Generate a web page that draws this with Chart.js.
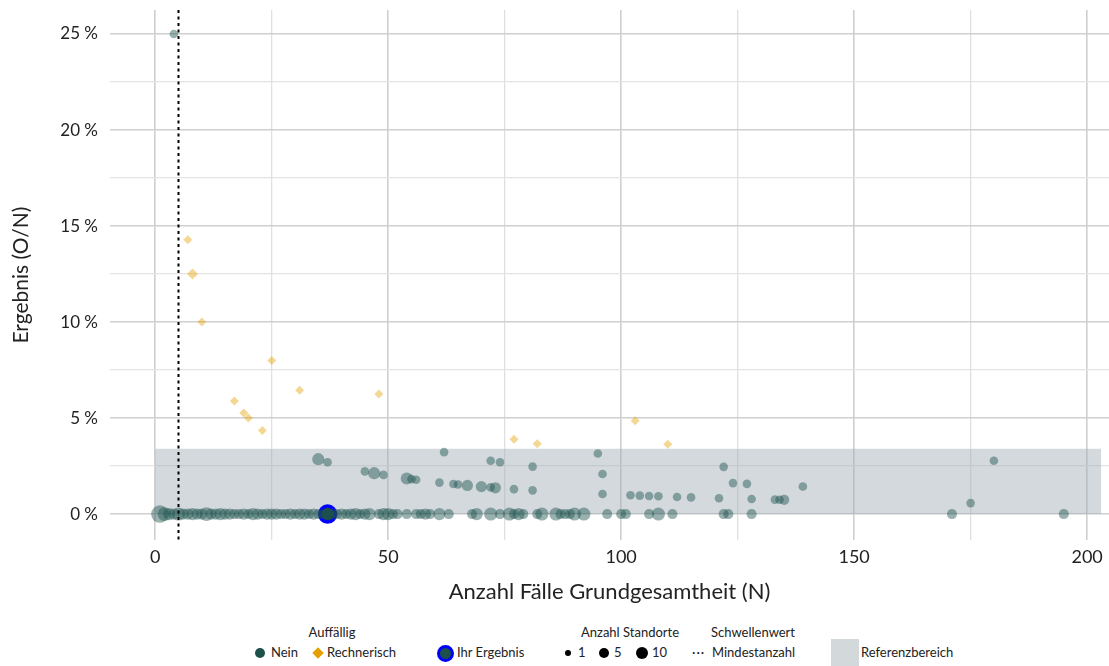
<!DOCTYPE html>
<html lang="de">
<head>
<meta charset="utf-8">
<title>Ergebnis nach Anzahl Fälle</title>
<script src="https://cdn.jsdelivr.net/npm/chart.js@4.4.1/dist/chart.umd.min.js"></script>
<style>
  body { margin: 0; background: #fff; font-family: Lato, "Open Sans", sans-serif; color: #222; }
  #wrap { position: relative; width: 1109px; height: 666px; }
  #legend { position: absolute; left: 0; top: 610px; width: 1109px; height: 56px; font-size: 13px; }
  #legend .t { position: absolute; top: 14px; transform: translateX(-50%); white-space: nowrap; }
  #legend .l { position: absolute; top: 34px; white-space: nowrap; }
  #legend .s { position: absolute; }
</style>
</head>
<body>
<div id="wrap">
  <canvas id="scatterChart" width="1109" height="610"></canvas>
  <div id="legend">
    <span class="t" style="left:332px">Auffällig</span>
    <span class="s" style="left:255px;top:38px;width:10px;height:10px;border-radius:50%;background:#1d4f4b"></span>
    <span class="l" style="left:271px">Nein</span>
    <span class="s" style="left:314px;top:39px;width:8px;height:8px;transform:rotate(45deg);background:#e69f00"></span>
    <span class="l" style="left:327px">Rechnerisch</span>
    <span class="s" style="left:437px;top:35px;width:11px;height:11px;border-radius:50%;background:#1d4f4b;border:3px solid #0000ff"></span>
    <span class="l" style="left:457px">Ihr Ergebnis</span>
    <span class="t" style="left:630px">Anzahl Standorte</span>
    <span class="s" style="left:565px;top:40px;width:6px;height:6px;border-radius:50%;background:#000"></span>
    <span class="l" style="left:578px">1</span>
    <span class="s" style="left:599px;top:38px;width:10px;height:10px;border-radius:50%;background:#000"></span>
    <span class="l" style="left:614px">5</span>
    <span class="s" style="left:636px;top:37px;width:12px;height:12px;border-radius:50%;background:#000"></span>
    <span class="l" style="left:652px">10</span>
    <span class="t" style="left:753px">Schwellenwert</span>
    <span class="l" style="left:692px;letter-spacing:1px">···</span>
    <span class="l" style="left:712px">Mindestanzahl</span>
    <span class="s" style="left:831px;top:29px;width:28px;height:27px;background:#d3d8db"></span>
    <span class="l" style="left:861px">Referenzbereich</span>
  </div>
</div>
<script>
// Auffällig = Nein (Ereignisse > 0)
const neinN = [4, 35, 37, 45, 47, 49, 54, 55, 56, 61, 62, 64, 65, 67, 70, 72, 72, 73, 74, 77,
  81, 81, 95, 96, 96, 102, 104, 106, 108, 112, 115, 121, 122, 124, 127, 128, 133, 134, 135, 139, 175, 180];
const neinO = [1, 1, 1, 1, 1, 1, 1, 1, 1, 1, 2, 1, 1, 1, 1, 2, 1, 1, 2, 1,
  2, 1, 3, 2, 1, 1, 1, 1, 1, 1, 1, 1, 3, 2, 2, 1, 1, 1, 1, 2, 1, 5];
const neinStandorte = [1, 4, 1, 1, 4, 1, 4, 1, 1, 1, 1, 1, 1, 3, 3, 1, 1, 3, 1, 1,
  1, 1, 1, 1, 1, 1, 1, 1, 1, 1, 1, 1, 1, 1, 1, 1, 1, 1, 2, 1, 1, 1];

// Auffällig = Nein, ohne Ereignis (O = 0)
const nullN = [1, 2, 3, 4, 5, 6, 7, 8, 9, 10, 11, 12, 13, 14, 15, 16, 17, 18, 19, 20,
  21, 22, 23, 24, 25, 26, 27, 28, 29, 30, 31, 32, 33, 34, 35, 36, 38, 39, 40, 41,
  42, 43, 44, 45, 46, 48, 49, 50, 51, 52, 54, 56, 57, 58, 59, 61, 63, 68, 69, 72,
  74, 76, 77, 78, 79, 82, 83, 86, 87, 88, 89, 90, 92, 97, 100, 101, 106, 108, 111, 122,
  123, 128, 171, 195];
const nullStandorte = [12, 6, 4, 3, 5, 3, 3, 4, 3, 3, 6, 3, 3, 4, 3, 3, 2, 2, 3, 2,
  4, 3, 2, 3, 3, 3, 2, 2, 3, 2, 3, 3, 2, 3, 2, 2, 3, 2, 3, 2,
  3, 4, 2, 3, 4, 2, 4, 4, 2, 2, 2, 2, 2, 3, 2, 4, 2, 2, 4, 5,
  2, 5, 2, 4, 2, 2, 5, 5, 2, 2, 2, 5, 5, 2, 2, 2, 2, 5, 2, 2,
  2, 2, 2, 2];

// Auffällig = Rechnerisch
const rechnerischN = [7, 8, 10, 17, 19, 20, 23, 25, 31, 48, 77, 82, 103, 110];
const rechnerischO = [1, 1, 1, 1, 1, 1, 1, 2, 2, 3, 3, 3, 5, 4];
const rechnerischStandorte = [1, 2, 1, 1, 1, 1, 1, 1, 1, 1, 1, 1, 1, 1];

// eigener Standort
const ihrN = [37];
const ihrO = [0];

const mindestanzahl = 5;
const referenzN = [0, 203];
const referenzProzent = [0, 3.4];
const yBeschriftung = [0, 5, 10, 15, 20, 25];
const xBeschriftung = [0, 50, 100, 150, 200];

const gruen = 'rgba(29, 82, 77, 0.45)';
const orange = 'rgba(230, 159, 0, 0.42)';

function punkte(nArr, oArr) {
  return nArr.map((n, i) => ({ x: n, y: oArr ? oArr[i] / n * 100 : 0 }));
}
function radius(st) {
  return 2.5 + 1.8 * Math.sqrt(st);
}

const bandPlugin = {
  id: 'referenzband',
  beforeDatasetsDraw(chart) {
    const { ctx, scales: { x, y } } = chart;
    const x0 = x.getPixelForValue(referenzN[0]), x1 = x.getPixelForValue(referenzN[1]);
    const y0 = y.getPixelForValue(referenzProzent[0]), y1 = y.getPixelForValue(referenzProzent[1]);
    ctx.save();
    ctx.fillStyle = 'rgba(160, 172, 179, 0.46)';
    ctx.fillRect(x0, y1, x1 - x0, y0 - y1);
    ctx.restore();
  }
};

const schwellePlugin = {
  id: 'schwelle',
  afterDatasetsDraw(chart) {
    const { ctx, chartArea, scales: { x } } = chart;
    const px = Math.round(x.getPixelForValue(mindestanzahl)) + 0.5;
    ctx.save();
    ctx.strokeStyle = '#000';
    ctx.lineWidth = 2;
    ctx.setLineDash([3, 3.5]);
    ctx.beginPath();
    ctx.moveTo(px, chartArea.top);
    ctx.lineTo(px, chartArea.bottom);
    ctx.stroke();
    ctx.restore();
  }
};

const ctx = document.getElementById('scatterChart').getContext('2d');
new Chart(ctx, {
  type: 'scatter',
  data: {
    datasets: [
      {
        label: 'Nein',
        data: punkte(nullN, null).concat(punkte(neinN, neinO)),
        pointRadius: nullStandorte.concat(neinStandorte).map(radius),
        backgroundColor: gruen,
        borderWidth: 0,
        pointHoverRadius: 0
      },
      {
        label: 'Rechnerisch',
        data: punkte(rechnerischN, rechnerischO),
        pointStyle: 'rectRot',
        pointRadius: rechnerischStandorte.map(s => s > 1 ? 5.5 : 4.5),
        backgroundColor: orange,
        borderWidth: 0
      },
      {
        label: 'Ihr Ergebnis',
        data: punkte(ihrN, ihrO),
        pointRadius: 8,
        backgroundColor: '#1d4f4b',
        borderColor: '#0000ff',
        borderWidth: 3.5
      }
    ]
  },
  options: {
    responsive: false,
    animation: false,
    layout: { padding: { top: 10, left: 0, right: 0, bottom: 0 }, autoPadding: false },
    plugins: {
      legend: { display: false },
      tooltip: { enabled: false }
    },
    scales: {
      x: {
        type: 'linear',
        min: -9.7,
        max: 204.7,
        border: { display: false },
        grid: {
          drawTicks: false,
          color: c => c.tick.value % 50 === 0 ? '#cfcfcf' : '#e0e0e0',
          lineWidth: c => c.tick.value % 50 === 0 ? 1.6 : 1.3
        },
        ticks: {
          stepSize: 25,
          includeBounds: false,
          autoSkip: false,
          maxRotation: 0,
          padding: 6,
          color: '#222',
          font: { family: 'Lato', size: 18 },
          callback: v => xBeschriftung.includes(v) ? v : ''
        },
        title: {
          display: true,
          text: 'Anzahl Fälle Grundgesamtheit (N)',
          color: '#222',
          font: { family: 'Lato', size: 22 },
          padding: { top: 5, bottom: 5 }
        },
        afterFit: s => { s.height = 70; s.paddingLeft = 0; s.paddingRight = 0; }
      },
      y: {
        min: -1.35,
        max: 26.25,
        border: { display: false },
        grid: {
          drawTicks: false,
          color: c => c.tick.value % 5 === 0 ? '#cfcfcf' : '#e3e3e3',
          lineWidth: c => c.tick.value % 5 === 0 ? 1.6 : 1.3
        },
        ticks: {
          stepSize: 2.5,
          includeBounds: false,
          autoSkip: false,
          padding: 12,
          color: '#222',
          font: { family: 'Lato', size: 17 },
          callback: v => yBeschriftung.includes(v) ? v + ' %' : ''
        },
        title: {
          display: true,
          text: 'Ergebnis (O/N)',
          color: '#222',
          font: { family: 'Lato', size: 21 },
          padding: { top: 9, bottom: 0 }
        },
        afterFit: s => { s.width = 110; s.paddingTop = 0; s.paddingBottom = 0; }
      }
    }
  },
  plugins: [bandPlugin, schwellePlugin]
});
</script>
</body>
</html>
